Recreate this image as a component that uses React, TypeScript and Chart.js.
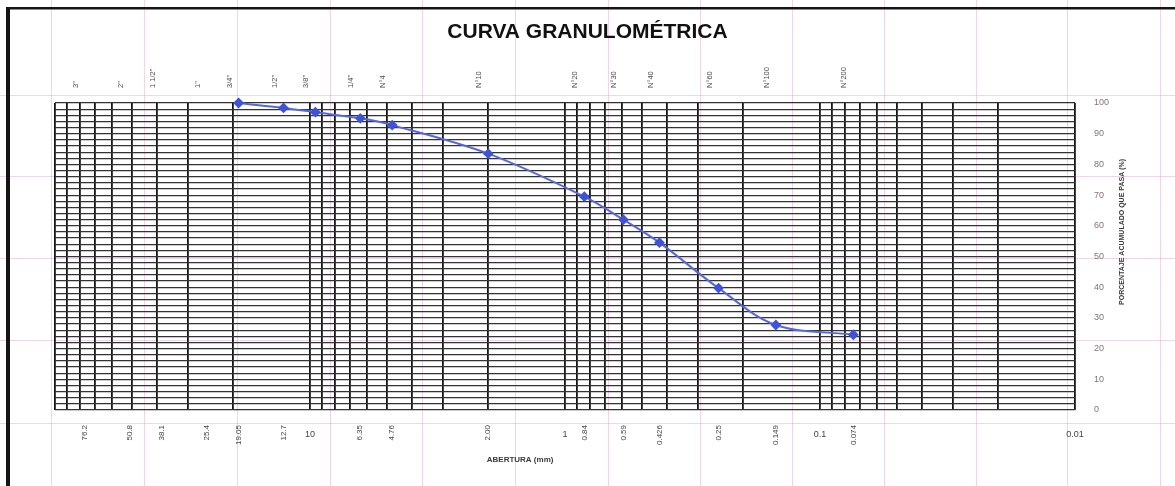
import React, { useEffect, useRef } from 'react';
import { Chart, registerables } from 'chart.js';

Chart.register(...registerables);

// ---- data ----
const chartTitle = 'CURVA GRANULOMÉTRICA';
const xAxisTitle = 'ABERTURA (mm)';
const yAxisTitle = 'PORCENTAJE ACUMULADO QUE PASA (%)';

const sieveNames = ['3"', '2"', '1 1/2"', '1"', '3/4"', '1/2"', '3/8"', '1/4"', 'N°4', 'N°10', 'N°20', 'N°30', 'N°40', 'N°60', 'N°100', 'N°200'];
const sieveOpenings = [76.2, 50.8, 38.1, 25.4, 19.05, 12.7, 9.525, 6.35, 4.76, 2.0, 0.84, 0.59, 0.426, 0.25, 0.149, 0.074];

const openingLabelValues = [76.2, 50.8, 38.1, 25.4, 19.05, 12.7, 6.35, 4.76, 2.0, 0.84, 0.59, 0.426, 0.25, 0.149, 0.074];
const openingLabels = ['76.2', '50.8', '38.1', '25.4', '19.05', '12.7', '6.35', '4.76', '2.00', '0.84', '0.59', '0.426', '0.25', '0.149', '0.074'];

const sampleSizes = [19.05, 12.7, 9.525, 6.35, 4.76, 2.0, 0.84, 0.59, 0.426, 0.25, 0.149, 0.074];
const percentPassing = [100, 98.4, 97, 95, 92.8, 83.5, 69.5, 62, 54.5, 39.7, 27.7, 24.5];

const logGridValues = [
  100, 90, 80, 70, 60, 50, 40, 30, 20,
  10, 9, 8, 7, 6, 5, 4, 3, 2,
  1, 0.9, 0.8, 0.7, 0.6, 0.5, 0.4, 0.3, 0.2,
  0.1, 0.09, 0.08, 0.07, 0.06, 0.05, 0.04, 0.03, 0.02,
  0.01,
];
const majorValues = [10, 1, 0.1, 0.01];
const majorLabels = ['10', '1', '0.1', '0.01'];
const percentTickLabels = [0, 10, 20, 30, 40, 50, 60, 70, 80, 90, 100];
const percentGridStep = 2;

const X_MIN = 0.01;
const X_MAX = 100;

const FONT = '"Liberation Sans", Arial, sans-serif';

const decorPlugin = {
  id: 'decor',
  beforeDraw(chart: any) {
    const { ctx, width, height } = chart;
    ctx.save();
    ctx.fillStyle = '#ffffff';
    ctx.fillRect(0, 0, width, height);
    // faint spreadsheet lines of the scanned page
    ctx.strokeStyle = 'rgba(214,150,196,0.4)';
    ctx.lineWidth = 1;
    const cols = [51, 144, 237, 330, 422, 515, 608, 700, 792, 884, 976, 1067, 1160];
    const rows = [95, 176, 258, 340, 423];
    cols.forEach((x) => {
      ctx.beginPath();
      ctx.moveTo(x + 0.5, 0);
      ctx.lineTo(x + 0.5, height);
      ctx.stroke();
    });
    rows.forEach((y) => {
      ctx.beginPath();
      ctx.moveTo(0, y + 0.5);
      ctx.lineTo(width, y + 0.5);
      ctx.stroke();
    });
    // frame
    ctx.fillStyle = '#151515';
    ctx.fillRect(6, 7, 4, height - 7);
    ctx.fillRect(6, 7, width - 6, 2.5);
    ctx.restore();
  },
  afterDraw(chart: any) {
    const { ctx } = chart;
    const xs = chart.scales.x;
    const ys = chart.scales.y;
    ctx.save();
    ctx.fillStyle = '#3a3a3a';
    ctx.font = `bold 8px ${FONT}`;
    ctx.textAlign = 'center';
    ctx.textBaseline = 'middle';
    ctx.fillText(xAxisTitle, xs.getPixelForValue(1.5), 460);
    ctx.translate(1122, ys.getPixelForValue(58));
    ctx.rotate(-Math.PI / 2);
    ctx.font = `bold 7px ${FONT}`;
    ctx.fillText(yAxisTitle, 0, 0);
    ctx.restore();
  },
};

export default function App() {
  const canvasRef = useRef<HTMLCanvasElement | null>(null);

  useEffect(() => {
    document.body.style.margin = '0';
    const canvas = canvasRef.current;
    if (!canvas) return;

    const chart = new Chart(canvas, {
      type: 'line',
      data: {
        datasets: [
          {
            label: 'Curva granulométrica',
            data: sampleSizes.map((s, i) => ({ x: s, y: percentPassing[i] })),
            xAxisID: 'x',
            yAxisID: 'y',
            borderColor: '#5668dc',
            borderWidth: 2,
            tension: 0.35,
            pointStyle: 'rectRot',
            pointRadius: 4,
            pointBackgroundColor: '#3f53d6',
            pointBorderColor: '#3f53d6',
            clip: false,
          },
        ],
      },
      options: {
        responsive: false,
        maintainAspectRatio: false,
        animation: false,
        devicePixelRatio: 1,
        layout: { padding: 0 },
        plugins: {
          legend: { display: false },
          tooltip: { enabled: false },
          title: {
            display: true,
            text: chartTitle,
            color: '#111',
            font: { family: FONT, size: 21, weight: 'bold' },
            padding: { top: 20, bottom: 17.8 },
          },
        },
        scales: {
          yl: {
            type: 'linear',
            position: 'left',
            display: true,
            grid: { display: false },
            border: { display: false },
            ticks: { display: false },
            afterFit: (s: any) => { s.width = 55; },
          },
          x: {
            type: 'logarithmic',
            position: 'bottom',
            reverse: true,
            min: X_MIN,
            max: X_MAX,
            bounds: 'data',
            afterBuildTicks: (s: any) => {
              s.ticks = openingLabelValues.map((v) => ({ value: v }));
            },
            grid: { display: false, drawTicks: false },
            border: { display: false },
            ticks: {
              autoSkip: false,
              minRotation: 90,
              maxRotation: 90,
              padding: 15,
              color: '#444',
              font: { family: FONT, size: 8 },
              callback: (_v: any, i: number) => openingLabels[i],
            },
            afterFit: (s: any) => { s.height = 76; },
          },
          x2: {
            type: 'logarithmic',
            position: 'top',
            reverse: true,
            min: X_MIN,
            max: X_MAX,
            bounds: 'data',
            afterBuildTicks: (s: any) => {
              s.ticks = sieveOpenings.map((v) => ({ value: v }));
            },
            grid: { display: false, drawTicks: false },
            border: { display: false },
            ticks: {
              autoSkip: false,
              minRotation: 90,
              maxRotation: 90,
              padding: 15,
              color: '#4a4a4a',
              font: { family: FONT, size: 7.5 },
              callback: (_v: any, i: number) => sieveNames[i],
            },
            afterFit: (s: any) => { s.height = 40; },
          },
          xg: {
            type: 'logarithmic',
            position: { y: 0 },
            reverse: true,
            min: X_MIN,
            max: X_MAX,
            bounds: 'data',
            afterBuildTicks: (s: any) => {
              s.ticks = logGridValues.map((v) => ({ value: v }));
            },
            grid: { color: '#151515', lineWidth: 1.8, drawTicks: false },
            border: { display: false },
            ticks: {
              autoSkip: false,
              minRotation: 0,
              maxRotation: 0,
              padding: 19,
              color: '#444',
              font: { family: FONT, size: 9 },
              callback: (v: any) => {
                const i = majorValues.indexOf(v);
                return i >= 0 ? majorLabels[i] : '';
              },
            },
          },
          y: {
            type: 'linear',
            position: 'right',
            min: 0,
            max: 100,
            afterBuildTicks: (s: any) => {
              const t: any[] = [];
              for (let v = 0; v <= 100; v += percentGridStep) t.push({ value: v });
              s.ticks = t;
            },
            grid: { color: '#333333', lineWidth: 1.2, drawTicks: false },
            border: { display: false },
            ticks: {
              autoSkip: false,
              padding: 19,
              color: '#86707c',
              font: { family: FONT, size: 9 },
              callback: (v: any) => (percentTickLabels.includes(v) ? String(v) : ''),
            },
            afterFit: (s: any) => { s.width = 100; },
          },
        },
      } as any,
      plugins: [decorPlugin],
    });

    return () => chart.destroy();
  }, []);

  return (
    <div style={{ width: 1175, height: 486, position: 'relative' }}>
      <canvas ref={canvasRef} width={1175} height={486} />
    </div>
  );
}
